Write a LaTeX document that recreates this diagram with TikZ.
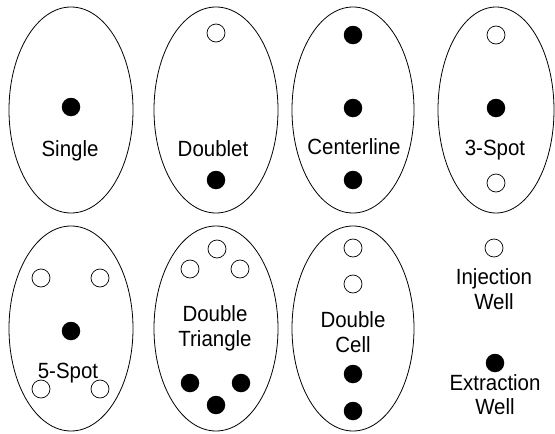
\documentclass[tikz,border=0pt]{standalone}
\usepackage{fontspec}
\setmainfont{Liberation Sans}
\newfontfamily\lblfont[FakeStretch=0.93]{Liberation Sans}
\begin{document}
\begin{tikzpicture}[x=1pt,y=-1pt,
  field/.style={draw=black,line width=0.8pt},
  inj/.style={circle,draw=black,line width=0.7pt,fill=white,minimum size=18pt,inner sep=0pt},
  ext/.style={circle,fill=black,minimum size=18.5pt,inner sep=0pt},
  lbl/.style={font=\lblfont\fontsize{22}{26}\selectfont,anchor=base,inner sep=0pt}]
\useasboundingbox (0,0) rectangle (555,434);
% fields
\draw[field] (71,110) ellipse [x radius=62,y radius=103];
\draw[field] (216,110) ellipse [x radius=62,y radius=103];
\draw[field] (353,110) ellipse [x radius=61,y radius=103];
\draw[field] (496,110) ellipse [x radius=58,y radius=103];
\draw[field] (71,328.5) ellipse [x radius=62,y radius=102.5];
\draw[field] (216,328.5) ellipse [x radius=62,y radius=102.5];
\draw[field] (353,328.5) ellipse [x radius=61,y radius=102.5];
% Single
\node[ext] (s1) at (71,107) {};
\node[lbl] (ls) at (70,156) {Single};
% Doublet
\node[inj] (d1) at (216,33) {};
\node[lbl] (ld) at (213,156) {Doublet};
\node[ext] (d2) at (216,180) {};
% Centerline
\node[ext] (c1) at (353,35) {};
\node[ext] (c2) at (353,108) {};
\node[ext] (c3) at (353,180) {};
\node[lbl] (lc) at (354,154) {Centerline};
% 3-Spot
\node[inj] (t1) at (496,35) {};
\node[ext] (t2) at (496,108) {};
\node[inj] (t3) at (496,183) {};
\node[lbl] (lt) at (495,155) {3-Spot};
% 5-Spot
\node[inj] (f1) at (41,278) {};
\node[inj] (f2) at (100,278) {};
\node[inj] (f3) at (41,389) {};
\node[inj] (f4) at (100,389) {};
\node[ext] (f5) at (71,331) {};
\node[lbl] (lf) at (68,378) {5-Spot};
% Double Triangle
\node[inj] (g1) at (217,249) {};
\node[inj] (g2) at (190,269) {};
\node[inj] (g3) at (240,269) {};
\node[lbl] (lg1) at (215,321) {Double};
\node[lbl] (lg2) at (215,346) {Triangle};
\node[ext] (g4) at (190,383) {};
\node[ext] (g5) at (241,383) {};
\node[ext] (g6) at (216,405) {};
% Double Cell
\node[inj] (h1) at (353,248) {};
\node[inj] (h2) at (353,284) {};
\node[lbl] (lh1) at (353,327) {Double};
\node[lbl] (lh2) at (353,352) {Cell};
\node[ext] (h3) at (353,374) {};
\node[ext] (h4) at (353,411) {};
% Legend
\node[inj] (k1) at (494,248) {};
\node[lbl] (lk1) at (494,284) {Injection};
\node[lbl] (lk2) at (494,309) {Well};
\node[ext] (k2) at (495,363) {};
\node[lbl] (lk3) at (495,390) {Extraction};
\node[lbl] (lk4) at (495,414) {Well};
\end{tikzpicture}
\end{document}
